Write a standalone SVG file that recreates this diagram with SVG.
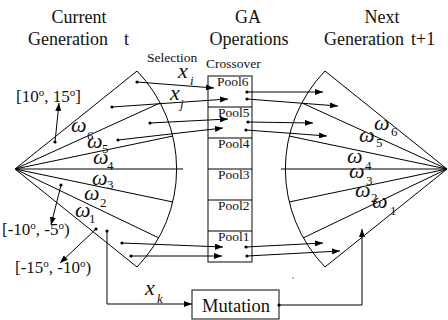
<svg xmlns="http://www.w3.org/2000/svg" width="448" height="320" viewBox="0 0 448 320" font-family="'Liberation Serif', 'Times New Roman', 'DejaVu Serif', serif">
  <style>
    text { font-family: "Liberation Serif", "Times New Roman", "DejaVu Serif", serif; fill: #111; }
    .title { font-size: 18px; }
    .small { font-size: 13.5px; }
    .pool { font-size: 13.5px; }
    .var { font-size: 22px; font-style: italic; }
    .sub { font-size: 13px; }
    .ang { font-size: 17px; }
    .sup { font-size: 11px; }
    .ln { stroke: #000; stroke-width: 1; fill: none; }
    .arr { stroke: #000; stroke-width: 1; fill: none; marker-end: url(#ah); }
    .box { stroke: #333; stroke-width: 1.2; fill: #fff; }
    .dot { fill: #000; }
  </style>
  <defs>
    <marker id="ah" viewBox="0 0 8 6" refX="8" refY="3" markerWidth="8" markerHeight="6" orient="auto" markerUnits="userSpaceOnUse">
      <path d="M0,0 L8,3 L0,6 z" fill="#000"/>
    </marker>
  </defs>
  <rect width="448" height="320" fill="#fff"/>

  <!-- column headings -->
  <g id="titles">
    <text class="title" x="79" y="23" text-anchor="middle">Current</text>
    <text class="title" x="28" y="45">Generation<tspan x="124">t</tspan></text>
    <text class="title" x="248" y="23" text-anchor="middle">GA</text>
    <text class="title" x="249" y="45" text-anchor="middle">Operations</text>
    <text class="title" x="382" y="23" text-anchor="middle">Next</text>
    <text class="title" x="324" y="45">Generation<tspan x="411">t+1</tspan></text>
    <text class="small" x="147" y="62">Selection</text>
    <text class="small" x="206" y="68">Crossover</text>
  </g>

  <!-- current generation: sector split into six angular bins -->
  <g id="current-generation">
    <path class="ln" d="M137,71 A141,141 0 0,1 137,267"/>
    <path class="ln" d="M137,71 L15,169 L137,267"/>
    <path class="ln" d="M15,169 L160,103 M15,169 L173,136 M15,169 L183,169 M15,169 L173,202 M15,169 L159,238"/>
    <text class="var" x="71" y="132">ω</text><text class="sub" x="87" y="140">6</text>
    <text class="var" x="87" y="148">ω</text><text class="sub" x="102" y="153">5</text>
    <text class="var" x="93" y="164">ω</text><text class="sub" x="107" y="170">4</text>
    <text class="var" x="92" y="185">ω</text><text class="sub" x="107" y="189">3</text>
    <text class="var" x="84" y="200">ω</text><text class="sub" x="100" y="207">2</text>
    <text class="var" x="75" y="217">ω</text><text class="sub" x="89" y="223">1</text>
    <text class="ang" x="16" y="102">[10<tspan class="sup" dy="-6">o</tspan><tspan dy="6">, 15</tspan><tspan class="sup" dy="-6">o</tspan><tspan dy="6">]</tspan></text>
    <text class="ang" x="2" y="235">[-10<tspan class="sup" dy="-6">o</tspan><tspan dy="6">, -5</tspan><tspan class="sup" dy="-6">o</tspan><tspan dy="6">)</tspan></text>
    <text class="ang" x="15" y="273">[-15<tspan class="sup" dy="-6">o</tspan><tspan dy="6">, -10</tspan><tspan class="sup" dy="-6">o</tspan><tspan dy="6">)</tspan></text>
  </g>

  <!-- crossover pools -->
  <g id="crossover-pools">
    <rect class="box" x="208" y="76" width="44" height="186"/>
    <path class="ln" d="M208,107 H252 M208,138 H252 M208,169 H252 M208,200 H252 M208,231 H252" stroke="#333"/>
    <text class="pool" x="217" y="86">Pool6</text>
    <text class="pool" x="218" y="117">Pool5</text>
    <text class="pool" x="218" y="148">Pool4</text>
    <text class="pool" x="218" y="179">Pool3</text>
    <text class="pool" x="218" y="210">Pool2</text>
    <text class="pool" x="218" y="241">Pool1</text>
  </g>

  <!-- next generation: mirrored sector -->
  <g id="next-generation">
    <path class="ln" d="M325,71 A141,141 0 0,0 325,267"/>
    <path class="ln" d="M325,71 L447,169 L325,267"/>
    <path class="ln" d="M447,169 L302,103 M447,169 L289,136 M447,169 L281,169 M447,169 L289,202 M447,169 L303,238"/>
    <text class="var" x="374" y="130">ω</text><text class="sub" x="391" y="136">6</text>
    <text class="var" x="359" y="142">ω</text><text class="sub" x="376" y="147">5</text>
    <text class="var" x="347" y="163">ω</text><text class="sub" x="365" y="170">4</text>
    <text class="var" x="349" y="178">ω</text><text class="sub" x="366" y="185">3</text>
    <text class="var" x="355" y="197">ω</text><text class="sub" x="371" y="202">2</text>
    <text class="var" x="372" y="208">ω</text><text class="sub" x="390" y="215">1</text>
  </g>

  <!-- mutation operator -->
  <g id="mutation">
    <rect class="box" x="192" y="290" width="87" height="29"/>
    <text x="236" y="312" text-anchor="middle" font-size="18.5">Mutation</text>
  </g>

  <!-- selection, crossover and mutation flows -->
  <g id="connectors">
    <!-- bin labels -->
    <circle class="dot" cx="55" cy="142" r="1.6"/><path class="arr" d="M55,142 L59,103"/>
    <circle class="dot" cx="61" cy="185" r="1.6"/><path class="arr" d="M61,185 L51,225"/>
    <circle class="dot" cx="96" cy="229" r="1.6"/><path class="arr" d="M96,229 L60,263"/>

    <!-- selection into pools -->
    <circle class="dot" cx="137" cy="82" r="1.6"/><path class="arr" d="M137,82 L214,88"/>
    <circle class="dot" cx="112" cy="107" r="1.6"/><path class="arr" d="M112,107 L228,99"/>
    <circle class="dot" cx="150" cy="123" r="1.6"/><path class="arr" d="M150,123 L228,119"/>
    <circle class="dot" cx="118" cy="140" r="1.6"/><path class="arr" d="M118,140 L223,128"/>
    <circle class="dot" cx="122" cy="243" r="1.6"/><path class="arr" d="M122,243 L223,247"/>
    <circle class="dot" cx="131" cy="256" r="1.6"/><path class="arr" d="M131,256 L222,256"/>
    <text class="var" x="178" y="78">x</text><text class="sub" x="190" y="85" font-style="italic">i</text>
    <text class="var" x="170" y="100">x</text><text class="sub" x="180" y="108" font-style="italic">j</text>

    <!-- offspring into next generation -->
    <circle class="dot" cx="247" cy="92" r="1.6"/><path class="arr" d="M247,92 L323,92"/>
    <circle class="dot" cx="247" cy="99" r="1.6"/><path class="arr" d="M247,99 L338,106"/>
    <circle class="dot" cx="248" cy="122" r="1.6"/><path class="arr" d="M248,122 L313,123"/>
    <circle class="dot" cx="246" cy="130" r="1.6"/><path class="arr" d="M246,130 L327,136"/>
    <circle class="dot" cx="246" cy="247" r="1.6"/><path class="arr" d="M246,247 L323,243"/>
    <circle class="dot" cx="247" cy="256" r="1.6"/><path class="arr" d="M247,256 L340,251"/>

    <!-- mutation path -->
    <circle class="dot" cx="107" cy="231" r="1.6"/>
    <path class="arr" d="M107,231 V304 H192" stroke="#333"/>
    <text class="var" x="145" y="295">x</text><text class="sub" x="157" y="303" font-style="italic">k</text>
    <circle class="dot" cx="279" cy="305" r="1.6"/>
    <path class="arr" d="M279,305 H362 V229" stroke="#333"/>
    <circle cx="293" cy="278" r="0.7" fill="#555"/>
  </g>
</svg>
